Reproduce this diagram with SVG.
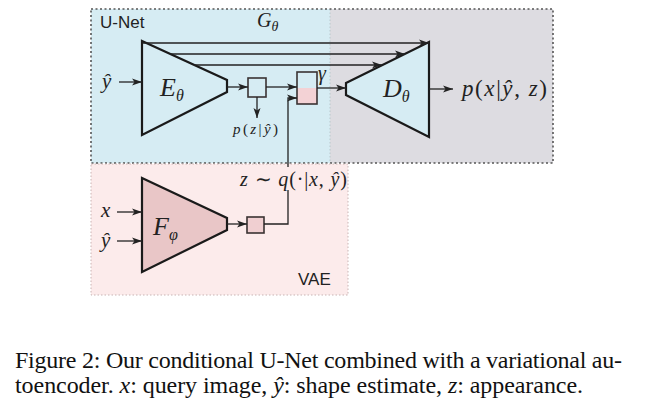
<svg xmlns="http://www.w3.org/2000/svg" width="648" height="415" viewBox="0 0 648 415">
<style>
.m{font-family:"Liberation Serif","Times New Roman",serif;font-style:italic;fill:#222}
.s{font-family:"Liberation Sans",Arial,sans-serif;fill:#222}
.cap{font-family:"Liberation Serif","Times New Roman",serif;fill:#111;font-size:24px}
.tri{stroke:#1a1a1a;stroke-width:2.2;stroke-linejoin:miter}
.ln{stroke:#222;stroke-width:1.3;fill:none}
.box{stroke:#3a3232;stroke-width:1.6}
</style>
<defs>
<marker id="ah" markerUnits="userSpaceOnUse" markerWidth="11" markerHeight="8" refX="10" refY="4" orient="auto">
<path d="M0,0.5 L10,4 L0,7.5 L2.5,4 Z" fill="#222"/>
</marker>
</defs>
<rect width="648" height="415" fill="#fff"/>
<g id="unet-bg">
<rect x="91" y="9" width="239" height="154" fill="#d6ecf3"/>
<rect x="330" y="9" width="223" height="154" fill="#dddce1"/>
<line x1="330" y1="9" x2="330" y2="163" stroke="#b8c8cc" stroke-width="1" stroke-dasharray="1.5,2"/>
<rect x="91" y="9" width="462" height="154" fill="none" stroke="#555" stroke-width="1.6" stroke-dasharray="2,2.5"/>
<text class="s" x="100" y="28" font-size="17">U-Net</text>
<text class="m" x="257" y="27" font-size="20">G<tspan font-size="14" dy="4">θ</tspan></text>
</g>
<g id="vae-bg">
<rect x="91" y="164" width="257" height="131" fill="#fcebeb" stroke="#c9b4b4" stroke-width="1" stroke-dasharray="1.5,2"/>
<text class="s" x="298" y="285" font-size="17">VAE</text>
</g>
<g id="encoder">
<polygon class="tri" points="142,41 227,80 227,92 142,135" fill="#d6ecf3"/>
<text class="m" x="160" y="96" font-size="26">E<tspan font-size="16" dy="5">θ</tspan></text>
</g>
<g id="decoder">
<polygon class="tri" points="346,83 429,42 429,137 346,95" fill="#d6ecf3"/>
<text class="m" x="383" y="97" font-size="26">D<tspan font-size="16" dy="5">θ</tspan></text>
</g>
<g id="vae-encoder">
<polygon class="tri" points="142,178 227,218 227,230 142,272" fill="#e9c6c7"/>
<text class="m" x="153" y="235" font-size="26">F<tspan font-size="16" dy="5">φ</tspan></text>
</g>
<g id="mu-box">
<rect class="box" x="248" y="78" width="18" height="19" fill="#d6ecf3"/>
</g>
<g id="concat-box">
<rect x="297" y="72" width="20" height="16" fill="#d6ecf3"/>
<rect x="297" y="88" width="20" height="16" fill="#f3d2d5"/>
<rect class="box" x="297" y="72" width="20" height="32" fill="none"/>
<text class="m" x="318" y="80" font-size="20">γ</text>
</g>
<g id="z-box">
<rect class="box" x="247" y="217" width="17" height="16" fill="#f0cfd1"/>
</g>
<g id="connectors">
<line class="ln" x1="119" y1="82" x2="142" y2="82" marker-end="url(#ah)"/>
<line class="ln" x1="117" y1="212" x2="142" y2="212" marker-end="url(#ah)"/>
<line class="ln" x1="117" y1="241" x2="142" y2="241" marker-end="url(#ah)"/>
<line class="ln" x1="142" y1="43" x2="429" y2="43" marker-end="url(#ah)"/>
<line class="ln" x1="170" y1="54" x2="405" y2="54" marker-end="url(#ah)"/>
<line class="ln" x1="194" y1="65" x2="382" y2="65" marker-end="url(#ah)"/>
<line class="ln" x1="227" y1="87" x2="248" y2="87" marker-end="url(#ah)"/>
<line class="ln" x1="257" y1="97" x2="257" y2="118" marker-end="url(#ah)"/>
<line class="ln" x1="266" y1="87" x2="297" y2="87" marker-end="url(#ah)"/>
<line class="ln" x1="317" y1="88" x2="346" y2="88" marker-end="url(#ah)"/>
<line class="ln" x1="429" y1="89" x2="453" y2="89" marker-end="url(#ah)"/>
<line class="ln" x1="227" y1="224" x2="247" y2="224" marker-end="url(#ah)"/>
<polyline class="ln" points="264,224 288,224 288,190"/>
<polyline class="ln" points="288,167 288,98 297,98" marker-end="url(#ah)"/>
</g>
<g id="labels">
<text class="m" x="102" y="88" font-size="21">ŷ</text>
<text class="m" x="101" y="217" font-size="21">x</text>
<text class="m" x="101" y="247" font-size="21">ŷ</text>
<text class="m" x="233" y="134" font-size="15" textLength="45" lengthAdjust="spacing">p<tspan font-style="normal">(</tspan>z<tspan font-style="normal">|</tspan>ŷ<tspan font-style="normal">)</tspan></text>
<text class="m" x="240" y="186" font-size="20" textLength="107" lengthAdjust="spacing">z <tspan font-style="normal">∼</tspan> q<tspan font-style="normal">(·|</tspan>x<tspan font-style="normal">, </tspan>ŷ<tspan font-style="normal">)</tspan></text>
<text class="m" x="462" y="96" font-size="23" textLength="85" lengthAdjust="spacing">p<tspan font-style="normal">(</tspan>x<tspan font-style="normal">|</tspan>ŷ<tspan font-style="normal">, </tspan>z<tspan font-style="normal">)</tspan></text>
</g>
<g id="caption">
<text class="cap" x="15" y="368" textLength="607" lengthAdjust="spacing">Figure 2: Our conditional U-Net combined with a variational au-</text>
<text class="cap" x="15" y="393" textLength="568" lengthAdjust="spacing">toencoder. <tspan font-style="italic">x</tspan>: query image, <tspan font-style="italic">ŷ</tspan>: shape estimate, <tspan font-style="italic">z</tspan>: appearance.</text>
</g>
</svg>
